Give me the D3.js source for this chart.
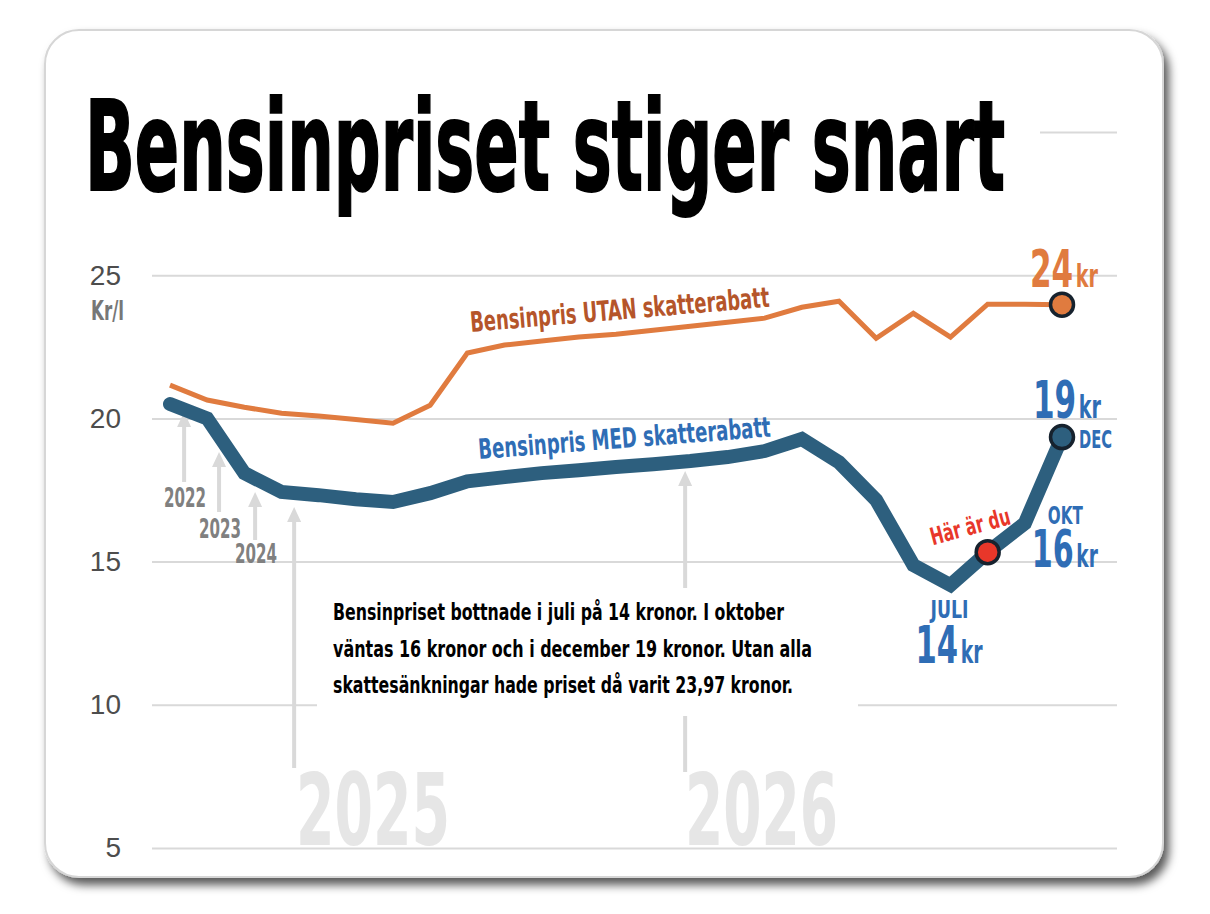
<!DOCTYPE html>
<html lang="sv">
<head>
<meta charset="UTF-8">
<title>Bensinpriset stiger snart</title>
<script src="https://cdn.jsdelivr.net/npm/d3@7"></script>
<style>
    body { margin: 0; background: #fff; }
    svg { display: block; }
    .cond {
        font-family: 'Liberation Sans Narrow', 'DejaVu Sans Condensed', Roboto, sans-serif;
        font-weight: 700;
    }
    .axis text {
        font-family: 'Liberation Sans', Arial, sans-serif;
        font-size: 28px;
        fill: #4d4d4d;
    }
    .axis line { stroke: #d9d9d9; stroke-width: 2; }
</style>
</head>
<body>
<script>
    /******* DATA *******/
    // 25 periods along the x axis (yearly values first, then months)
    const periods = [0, 1, 2, 3, 4, 5, 6, 7, 8, 9, 10, 11, 12, 13, 14, 15, 16, 17, 18, 19, 20, 21, 22, 23, 24];
    // Kr/l with tax cuts
    const medPrice = [20.50, 20.00, 18.09, 17.43, 17.32, 17.18, 17.08, 17.39, 17.80, 17.95, 18.09, 18.19,
                      18.30, 18.40, 18.51, 18.65, 18.86, 19.28, 18.47, 17.15, 14.88, 14.18, 15.33, 16.34, 19.35];
    // Kr/l without tax cuts
    const utanPrice = [21.16, 20.64, 20.39, 20.18, 20.08, 19.96, 19.83, 20.46, 22.28, 22.56, 22.70, 22.84,
                       22.94, 23.08, 23.22, 23.36, 23.50, 23.88, 24.09, 22.80, 23.67, 22.84, 23.99, 23.99, 23.97];
    const yTicks = [5, 10, 15, 20, 25, 30];
    const yearLabels = ["2022", "2023", "2024", "2025", "2026"];
    const noteLines = [
        "Bensinpriset bottnade i juli på 14 kronor. I oktober",
        "väntas 16 kronor och i december 19 kronor. Utan alla",
        "skattesänkningar hade priset då varit 23,97 kronor."
    ];

    /******* SETUP *******/
    const width = 1210, height = 914;
    const svg = d3.select("body").append("svg")
        .attr("width", width)
        .attr("height", height);

    const orange = "#e07b3f", orangeText = "#b5552a";
    const blueLine = "#2d5f7e", blueText = "#2f6db5";
    const red = "#e8372a";

    // Frame with shadow
    const defs = svg.append("defs");
    defs.append("filter").attr("id", "shadow")
        .attr("x", "-5%").attr("y", "-5%").attr("width", "115%").attr("height", "115%")
        .append("feDropShadow")
        .attr("dx", 5).attr("dy", 7).attr("stdDeviation", 5)
        .attr("flood-color", "#000").attr("flood-opacity", 0.65);

    svg.append("rect")
        .attr("x", 45).attr("y", 30).attr("width", 1118).attr("height", 847)
        .attr("rx", 34)
        .attr("fill", "#fff")
        .attr("stroke", "#d6d6d6").attr("stroke-width", 2)
        .attr("filter", "url(#shadow)");

    // Scales
    const x = d3.scalePoint().domain(periods).range([170, 1062]);
    const xFrac = d3.scaleLinear().domain([0, 24]).range([170, 1062]);
    const y = d3.scaleLinear().domain([5, 30]).range([848, 132]);

    // Grid / y axis (top line 30 has no label)
    const gridLeft = 152, gridRight = 1117;
    const yAxis = d3.axisLeft(y)
        .tickValues(yTicks)
        .tickSize(-(gridRight - gridLeft))
        .tickPadding(31)
        .tickFormat(d => d === 30 ? "" : d3.format("d")(d));
    svg.append("g")
        .attr("class", "axis")
        .attr("transform", `translate(${gridLeft},0)`)
        .call(yAxis)
        .call(g => g.select(".domain").remove());

    // helper for condensed text
    function label(s, px, py, size, fill, len, anchor) {
        const t = svg.append("text")
            .attr("class", "cond")
            .attr("x", px).attr("y", py)
            .attr("font-size", size)
            .attr("fill", fill)
            .attr("text-anchor", anchor || "start")
            .text(s);
        if (len) t.attr("textLength", len).attr("lengthAdjust", "spacingAndGlyphs");
        return t;
    }

    // big number + small "kr" in one text
    function amount(num, px, py, fill, len) {
        const t = svg.append("text")
            .attr("class", "cond")
            .attr("x", px).attr("y", py)
            .attr("fill", fill)
            .attr("textLength", len).attr("lengthAdjust", "spacingAndGlyphs");
        t.append("tspan").attr("font-size", 52).text(num);
        t.append("tspan").attr("font-size", 32).attr("dx", 4).text("kr");
        return t;
    }

    // Title (white box hides the top grid line)
    svg.append("rect")
        .attr("x", 60).attr("y", 85).attr("width", 980).attr("height", 140)
        .attr("fill", "#fff");
    label("Bensinpriset stiger snart", 85, 190, 124, "#000", 920)
        .attr("stroke", "#000").attr("stroke-width", 2);

    label("Kr/l", 91, 320, 26, "#777", 33);

    /******* YEAR ARROWS *******/
    const arrowGrey = "#d9d9d9";
    const arrows = [
        {pos: 0.38, top: 412, bottom: 482, ly: 507},
        {pos: 1.32, top: 452, bottom: 512, ly: 538},
        {pos: 2.29, top: 492, bottom: 540, ly: 563},
        {pos: 3.34, top: 507, bottom: 768},
        {pos: 13.86, top: 471, bottom: 772}
    ];
    arrows.forEach((a, i) => {
        const ax = xFrac(a.pos);
        svg.append("line")
            .attr("x1", ax).attr("x2", ax)
            .attr("y1", a.top + 12).attr("y2", a.bottom)
            .attr("stroke", arrowGrey).attr("stroke-width", 4);
        svg.append("path")
            .attr("d", `M${ax},${a.top} L${ax - 7},${a.top + 15} L${ax + 7},${a.top + 15} Z`)
            .attr("fill", arrowGrey);
        if (a.ly) label(yearLabels[i], ax + 1, a.ly, 27, "#808080", 42, "middle");
    });

    // Note box (covers grid and arrow)
    svg.append("rect")
        .attr("x", 317).attr("y", 588).attr("width", 541).attr("height", 128)
        .attr("fill", "#fff");
    const noteLens = [451, 479, 460];
    noteLines.forEach((s, i) => label(s, 333, 620 + i * 36.5, 23, "#000", noteLens[i]));

    // Big background years
    label(yearLabels[3], 296, 845, 100, "#e6e6e6", 154);
    label(yearLabels[4], 685, 845, 100, "#e6e6e6", 153);

    /******* LINES *******/
    const priceLine = d3.line().x((d, i) => x(periods[i])).y(d => y(d));
    svg.append("path")
        .attr("d", priceLine(utanPrice))
        .attr("fill", "none")
        .attr("stroke", orange)
        .attr("stroke-width", 5)
        .attr("stroke-linejoin", "miter");
    svg.append("path")
        .attr("d", priceLine(medPrice))
        .attr("fill", "none")
        .attr("stroke", blueLine)
        .attr("stroke-width", 14)
        .attr("stroke-linecap", "round")
        .attr("stroke-linejoin", "miter");

    // Series labels
    label("Bensinpris UTAN skatterabatt", 471, 332, 28, orangeText, 300)
        .attr("transform", "rotate(-4.8 471 332)");
    label("Bensinpris MED skatterabatt", 479, 459, 28, blueText, 293)
        .attr("transform", "rotate(-4.4 479 459)");

    /******* DOTS *******/
    const last = periods.length - 1;
    const dots = [
        {i: last, v: utanPrice[last], c: orange},
        {i: last, v: medPrice[last], c: blueLine},
        {i: 22, v: medPrice[22], c: red}
    ];
    svg.selectAll("circle.dot")
        .data(dots)
        .enter()
        .append("circle")
        .attr("class", "dot")
        .attr("cx", d => x(periods[d.i]))
        .attr("cy", d => y(d.v))
        .attr("r", 11.5)
        .attr("fill", d => d.c)
        .attr("stroke", "#16222e")
        .attr("stroke-width", 3.5);

    /******* ANNOTATIONS *******/
    const xe = x(periods[last]);
    const yU = y(utanPrice[last]), yM = y(medPrice[last]);
    amount("24", xe - 32, yU - 18, orange, 68);

    amount("19", xe - 29, yM - 19, blueText, 68);
    label("DEC", xe + 17, yM + 11, 25, blueText, 33);

    const xo = x(periods[23]), yo = y(medPrice[23]);
    label("OKT", xo + 23, yo + 1, 25, blueText, 35);
    amount("16", xo + 7, yo + 44, blueText, 66);

    const xj = x(periods[21]), yj = y(medPrice[21]);
    label("JULI", xj - 20, yj + 33, 25, blueText, 38);
    amount("14", xj - 35, yj + 78, blueText, 67);

    const xh = x(periods[22]) - 55, yh = y(medPrice[22]) - 7;
    label("Här är du", xh, yh, 24, red, 82)
        .attr("transform", `rotate(-15 ${xh} ${yh})`);
</script>
</body>
</html>
